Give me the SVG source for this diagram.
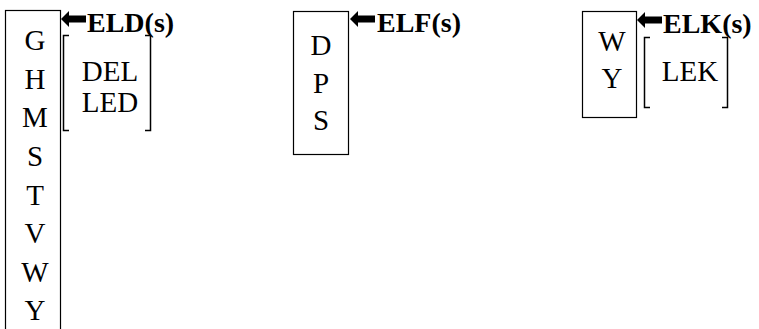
<svg xmlns="http://www.w3.org/2000/svg" width="759" height="329" viewBox="0 0 759 329">
<defs>
<style>
.box{fill:#fff;stroke:#000;stroke-width:1.2}
.br{fill:none;stroke:#000;stroke-width:1.5}
.t{font-family:'Liberation Serif','Times New Roman',serif;font-size:29px;fill:#000;text-anchor:middle}
.b{font-family:'Liberation Serif','Times New Roman',serif;font-size:28px;font-weight:bold;fill:#000}
.ar{fill:#000}
</style>
</defs>
<rect width="759" height="329" fill="#fff"/>
<g id="node-ELD">
<rect class="box" x="5.5" y="10.5" width="55" height="340"/>
<text class="t" x="35" y="50">G</text>
<text class="t" x="35" y="89">H</text>
<text class="t" x="35" y="127">M</text>
<text class="t" x="35" y="166">S</text>
<text class="t" x="35" y="205">T</text>
<text class="t" x="35" y="243">V</text>
<text class="t" x="35" y="282">W</text>
<text class="t" x="35" y="320">Y</text>
<path class="br" d="M69,35.5 H63.5 V130.5 H69"/>
<path class="br" d="M145,35.5 H150.5 V130.5 H145"/>
<text class="t" x="110" y="81">DEL</text>
<text class="t" x="110" y="112">LED</text>
</g>
<g id="node-ELF">
<rect class="box" x="293.5" y="11.5" width="55" height="143"/>
<text class="t" x="321" y="55">D</text>
<text class="t" x="321" y="93">P</text>
<text class="t" x="321" y="130">S</text>
</g>
<g id="node-ELK">
<rect class="box" x="582.5" y="11.5" width="54" height="106"/>
<text class="t" x="612" y="51">W</text>
<text class="t" x="612" y="88">Y</text>
<path class="br" d="M650,37.5 H644.5 V107.5 H650"/>
<path class="br" d="M722,37.5 H727.5 V107.5 H722"/>
<text class="t" x="690" y="81">LEK</text>
</g>
<g id="connectors">
<path class="ar" d="M61,19 L69,11 V15.5 H86 V22.5 H69 V27 Z"/>
<text class="b" x="87" y="32">ELD(s)</text>
<path class="ar" d="M350,19 L358,11 V15.5 H375 V22.5 H358 V27 Z"/>
<text class="b" x="377" y="32">ELF(s)</text>
<path class="ar" d="M637,20 L645,12 V16.5 H662 V23.5 H645 V28 Z"/>
<text class="b" x="663" y="33">ELK(s)</text>
</g>
</svg>
